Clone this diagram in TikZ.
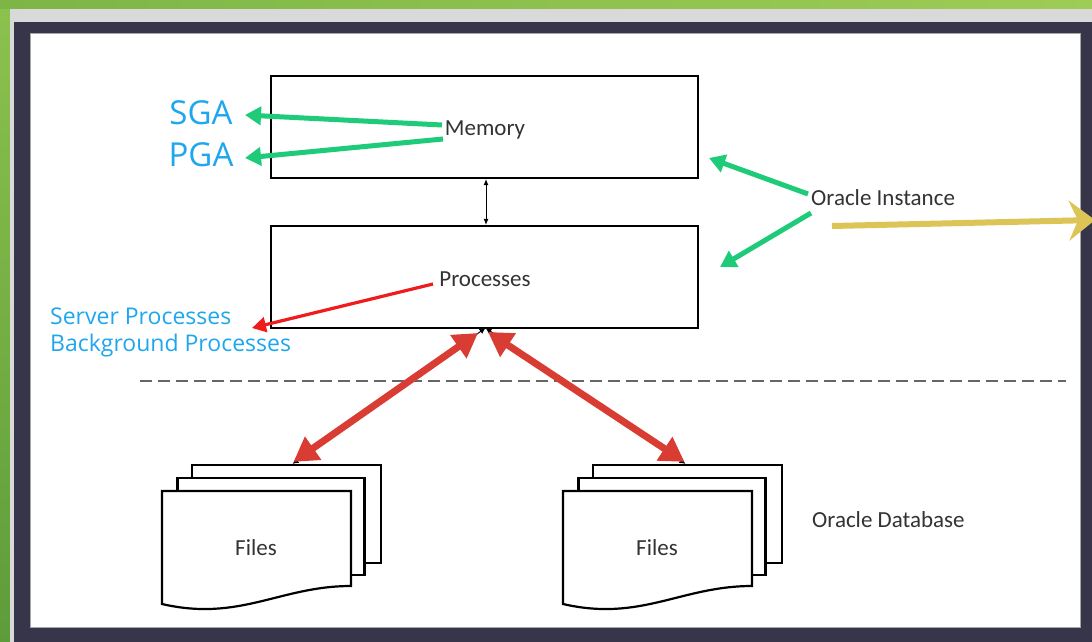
\documentclass[tikz,border=0pt]{standalone}
\usepackage{fontspec}
\setmainfont{Carlito}
\newfontfamily\bluefont{Open Sans}
\usetikzlibrary{arrows.meta,calc}
\definecolor{frameC}{HTML}{37354A}
\definecolor{greenTop}{HTML}{8CC24E}
\definecolor{greenBot}{HTML}{5E9C3A}
\definecolor{greenStripL}{HTML}{7DB646}
\definecolor{greenStripR}{HTML}{9ECC56}
\definecolor{stripGray}{HTML}{D9D9D9}
\definecolor{labelBlue}{HTML}{1EA7EE}
\definecolor{txtGray}{HTML}{333333}
\definecolor{arrGreen}{HTML}{1ECB78}
\definecolor{arrRed}{HTML}{D83C32}
\definecolor{arrRedThin}{HTML}{EE1C1C}
\definecolor{arrYellow}{HTML}{DCC456}
\tikzset{
  boxnode/.style={draw=black, line width=2.2pt, fill=white, inner sep=0pt},
  sheet/.style={draw=black, line width=2.2pt, fill=white},
  lbl/.style={font=\fontsize{23}{26}\selectfont, text=txtGray, inner sep=0pt},
  bluebig/.style={font=\bluefont\fontsize{33}{36}\selectfont, text=labelBlue, inner sep=0pt},
  bluesmall/.style={font=\bluefont\fontsize{23}{26}\selectfont, text=labelBlue, inner sep=0pt, anchor=west},
  garrow/.style={draw=arrGreen, line width=5pt, -{Triangle[length=16pt,width=18pt]}},
  rthick/.style={draw=arrRed, line width=7pt, {Triangle[length=24pt,width=27pt]}-{Triangle[length=24pt,width=27pt]}},
  rthin/.style={draw=arrRedThin, line width=3.2pt, -{Triangle[length=14pt,width=15pt]}},
  yarrow/.style={draw=arrYellow, line width=6pt, -{Stealth[length=26pt,width=40pt,inset=9pt]}},
  blk/.style={draw=black, line width=0.9pt, {Latex[length=6pt,width=5pt]}-{Latex[length=6pt,width=5pt]}}
}
\begin{document}
\begin{tikzpicture}[x=1pt,y=-1pt]
\clip (0,0) rectangle (1092,642);
\useasboundingbox (0,0) rectangle (1092,642);
% background frame
\shade[top color=greenTop, bottom color=greenBot] (0,0) rectangle (1092,642);
\shade[left color=greenStripL, right color=greenStripR] (0,0) rectangle (1092,9);
\fill[stripGray] (10,9) rectangle (1092,642);
\fill[frameC] (14,22) rectangle (1092,642);
\fill[white] (30,33) rectangle (1080,627);
\draw[gray!70, line width=0.8pt] (30,33) rectangle (1080,627);

% boxes
\node[boxnode, minimum width=427pt, minimum height=102pt] (mem) at (484.5,127) {};
\node[boxnode, minimum width=427pt, minimum height=102pt] (proc) at (484.5,277) {};
\node[lbl] (memtxt) at (485,130) {Memory};
\node[lbl] (proctxt) at (485,279) {Processes};
\draw[blk] ([xshift=1.5pt]mem.south) -- ([xshift=1.5pt]proc.north);

% left labels
\node[bluebig] (sga) at (201,113) {SGA};
\node[bluebig] (pga) at (201,155) {PGA};
\node[bluesmall] (srv) at (50,316) {Server Processes};
\node[bluesmall] (bg) at (50,346) {Background Processes};
\coordinate (sgaTip) at (245,115);
\coordinate (pgaTip) at (245,158);
\coordinate (memA) at (442,125);
\coordinate (memB) at (443,139);
\draw[garrow] (memA) -- (sgaTip);
\draw[garrow] (memB) -- (pgaTip);
\coordinate (procA) at (433,284);
\coordinate (srvTip) at (252,328);
\draw[rthin] (procA) -- (srvTip);

% Oracle instance
\node[lbl, anchor=west] (inst) at (811,198) {Oracle Instance};
\coordinate (instA) at (808,194);
\coordinate (instB) at (811,213);
\coordinate (memTip) at (709,158);
\coordinate (procTip) at (720,267);
\draw[garrow] (instA) -- (memTip);
\draw[garrow] (instB) -- (procTip);
\coordinate (yStart) at (832,226);
\coordinate (yEnd) at (1095,220);
\draw[yarrow] (yStart) -- (yEnd);

% dashed separator
\coordinate (dashL) at (140,381);
\coordinate (dashR) at (1066,381);
\draw[gray!80!black, line width=1.6pt, dash pattern=on 12pt off 6pt] (dashL) -- (dashR);

% file stacks
\foreach \nm/\dx in {A/0,B/401}{
  \begin{scope}[xshift=\dx pt]
    \node[sheet, minimum width=189pt, minimum height=98pt, inner sep=0pt] (back\nm) at (286.5,514) {};
    \node[sheet, minimum width=187pt, minimum height=97pt, inner sep=0pt] (mid\nm) at (271,526.5) {};
    \draw[sheet] (162,604) -- (162,491) -- (351,491) -- (351,586)
      .. controls (280,586) and (240,622) .. cycle;
    \node[lbl] (files\nm) at (256,548) {Files};
  \end{scope}
}
\node[lbl, anchor=west] (odb) at (812,520) {Oracle Database};

% connectors processes <-> files
\coordinate (pBot) at (485.5,328);
\draw[black, line width=1pt, {Latex[length=6pt,width=6pt]}-{Latex[length=6pt,width=6pt]}] (pBot) -- ([xshift=6pt]backA.north);
\draw[black, line width=1pt, {Latex[length=6pt,width=6pt]}-{Latex[length=6pt,width=6pt]}] (pBot) -- ([xshift=-2pt]backB.north);
\draw[rthick] (478,333) -- ([xshift=7pt,yshift=2pt]backA.north);
\draw[rthick] (488,332) -- ([xshift=-3pt,yshift=2pt]backB.north);
\end{tikzpicture}
\end{document}
